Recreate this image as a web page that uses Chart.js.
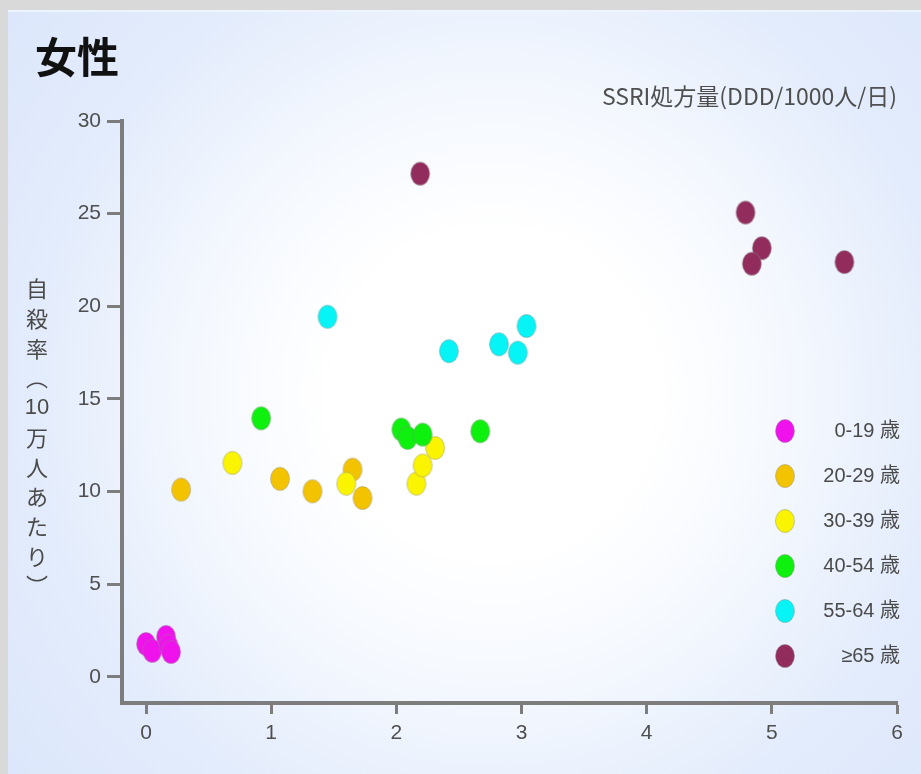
<!DOCTYPE html>
<html lang="ja">
<head>
<meta charset="utf-8">
<title>女性 SSRI処方量と自殺率</title>
<script src="https://cdn.jsdelivr.net/npm/chart.js@4.4.1/dist/chart.umd.min.js"></script>
<style>
  html, body { margin: 0; padding: 0; }
  body { width: 921px; height: 774px; background: #d9d9d9; position: relative; overflow: hidden; }
  #panel {
    position: absolute; left: 8px; top: 10px; width: 913px; height: 764px;
    box-sizing: border-box; border-top: 2px solid #eef4fe;
    background: radial-gradient(circle at 53% 50%, #ffffff 0px, #ffffff 160px, #f4f8fe 300px, #e3ecfc 460px, #dbe6fb 640px);
  }
  #chart { position: absolute; left: 0; top: 0; }
</style>
</head>
<body>
<div id="panel"></div>
<canvas id="chart" width="921" height="774"></canvas>
<script>
const ageGroups = ["0-19 歳", "20-29 歳", "30-39 歳", "40-54 歳", "55-64 歳", "≥65 歳"];
const groupColors = ["#f012ec", "#f4c300", "#faf400", "#0ef00e", "#06f4f6", "#912c5c"];

// SSRI prescriptions (x) and suicide rate per 100k (y), one pair of arrays per age group
const ssri0to19 = [0.00, 0.05, 0.16, 0.18, 0.20];
const rate0to19 = [1.78, 1.41, 2.16, 1.68, 1.35];
const ssri20to29 = [0.28, 1.07, 1.33, 1.65, 1.73];
const rate20to29 = [10.11, 10.69, 10.02, 11.19, 9.66];
const ssri30to39 = [0.69, 1.60, 2.16, 2.21, 2.31];
const rate30to39 = [11.55, 10.43, 10.43, 11.41, 12.36];
const ssri40to54 = [0.92, 2.04, 2.09, 2.21, 2.67];
const rate40to54 = [13.96, 13.35, 12.90, 13.08, 13.26];
const ssri55to64 = [1.45, 2.42, 2.82, 2.97, 3.04];
const rate55to64 = [19.44, 17.58, 17.95, 17.50, 18.94];
const ssri65up = [2.19, 4.79, 4.92, 4.84, 5.58];
const rate65up = [27.16, 25.06, 23.14, 22.30, 22.39];

const xTicks = [0, 1, 2, 3, 4, 5, 6];
const yTicks = [0, 5, 10, 15, 20, 25, 30];
const yTitleChars = ["自", "殺", "率", "︵", "10", "万", "人", "あ", "た", "り", "︶"];

const xSeries = [ssri0to19, ssri20to29, ssri30to39, ssri40to54, ssri55to64, ssri65up];
const ySeries = [rate0to19, rate20to29, rate30to39, rate40to54, rate55to64, rate65up];

const tickFont = { family: "'Liberation Sans', Arial, sans-serif", size: 21 };
const cjkFamily = "'Noto Sans CJK JP', 'Noto Sans', sans-serif";

// the dots in the original are slightly taller than wide
function makeDot(color) {
  const c = document.createElement("canvas");
  c.width = 22;
  c.height = 26;
  const g = c.getContext("2d");
  g.beginPath();
  g.ellipse(11, 13, 9.5, 11.5, 0, 0, Math.PI * 2);
  g.fillStyle = color;
  g.fill();
  g.lineWidth = 1;
  g.strokeStyle = "rgba(140,140,140,0.45)";
  g.stroke();
  return c;
}
const dots = groupColors.map(makeDot);

const datasets = ageGroups.map((label, i) => ({
  label: label,
  data: xSeries[i].map((x, j) => ({ x: x, y: ySeries[i][j] })),
  pointStyle: dots[i],
  backgroundColor: groupColors[i],
  borderColor: groupColors[i],
  order: ageGroups.length - i,
}));

// stacked vertical y title + legend inside the plot
const sideText = {
  id: "sideText",
  afterDraw(chart) {
    const { ctx, chartArea } = chart;
    ctx.save();
    ctx.fillStyle = "#4a4a4a";
    ctx.textAlign = "center";
    ctx.textBaseline = "middle";
    yTitleChars.forEach((ch, i) => {
      ctx.font = ch === "10" ? "22px 'Liberation Sans', sans-serif" : "22px " + cjkFamily;
      ctx.fillText(ch, 37, chartArea.top + 168 + i * 29.7);
    });

    const markerX = chartArea.right - 112;
    const textRight = chartArea.right + 3;
    ctx.textAlign = "right";
    ctx.font = "20px 'Liberation Sans', " + cjkFamily;
    ageGroups.forEach((label, i) => {
      const y = chartArea.top + 310 + i * 45;
      ctx.drawImage(dots[i], markerX - 11, y - 13);
      ctx.fillText(label, textRight, y);
    });
    ctx.restore();
  },
};

new Chart(document.getElementById("chart"), {
  type: "scatter",
  data: { datasets: datasets },
  plugins: [sideText],
  options: {
    responsive: false,
    animation: false,
    layout: { padding: { left: 35, right: 24, top: 32, bottom: 20 } },
    plugins: {
      legend: { display: false },
      tooltip: { enabled: false },
      title: {
        display: true,
        text: "女性",
        align: "start",
        color: "#111",
        font: { family: cjkFamily, size: 42, weight: "bold" },
        padding: { top: 0, bottom: 0 },
      },
      subtitle: {
        display: true,
        text: "SSRI処方量(DDD/1000人/日)",
        align: "end",
        color: "#4f4f4f",
        font: { family: cjkFamily, size: 23 },
        padding: { top: 0, bottom: 11 },
      },
    },
    scales: {
      x: {
        type: "linear",
        min: -0.192,
        max: 6,
        afterBuildTicks: (s) => { s.ticks = xTicks.map((v) => ({ value: v })); },
        afterFit: (s) => { s.height = 51; },
        border: { display: true, color: "#7d7d7d", width: 4 },
        grid: { drawOnChartArea: false, drawTicks: true, tickLength: 11, tickColor: "#7d7d7d", tickWidth: 3, color: "#7d7d7d" },
        ticks: { color: "#4f4f4f", padding: 7, autoSkip: false, maxRotation: 0, font: tickFont },
      },
      y: {
        type: "linear",
        min: -1.405,
        max: 30,
        afterBuildTicks: (s) => { s.ticks = yTicks.map((v) => ({ value: v })); },
        afterFit: (s) => { s.width = 87; },
        border: { display: true, color: "#7d7d7d", width: 4 },
        grid: { drawOnChartArea: false, drawTicks: true, tickLength: 15, tickColor: "#7d7d7d", tickWidth: 3, color: "#7d7d7d" },
        ticks: { color: "#4f4f4f", padding: 6, autoSkip: false, font: tickFont },
      },
    },
  },
});
</script>
</body>
</html>
